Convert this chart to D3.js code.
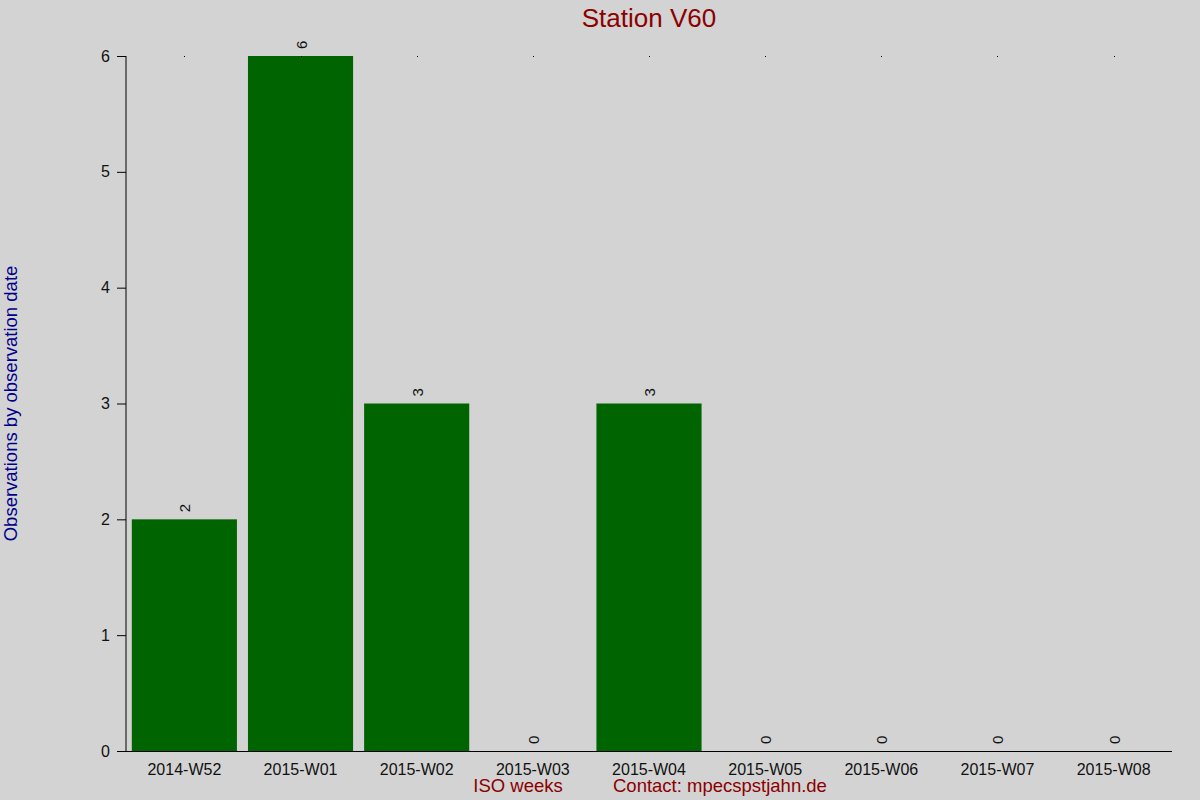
<!DOCTYPE html>
<html>
<head>
<meta charset="utf-8">
<script src="https://cdn.jsdelivr.net/npm/d3@7"></script>
<style>
  body { margin: 0; background: #d3d3d3; }
  svg { display: block; font-family: "Liberation Sans", Arial, sans-serif; }
</style>
</head>
<body>
<div id="chart"></div>
<script>
// Chart data
var weeks = ["2014-W52", "2015-W01", "2015-W02", "2015-W03", "2015-W04",
             "2015-W05", "2015-W06", "2015-W07", "2015-W08"];
var counts = [2, 6, 3, 0, 3, 0, 0, 0, 0];
var yTicks = [0, 1, 2, 3, 4, 5, 6];

var width = 1200, height = 800;
var margin = {top: 56, right: 28, bottom: 49, left: 126};

var svg = d3.select('#chart').append('svg')
	.attr('width', width)
	.attr('height', height);

svg.append('rect')
	.attr('width', width).attr('height', height)
	.attr('fill', '#d3d3d3');

var x = d3.scaleBand()
	.domain(weeks)
	.range([margin.left, width - margin.right])
	.paddingInner(0.095)
	.paddingOuter(0.05);

var y = d3.scaleLinear()
	.domain([0, 6])
	.range([height - margin.bottom, margin.top]);

// Bars
svg.append('g').selectAll('rect')
	.data(counts)
	.enter().append('rect')
		.attr('x', function(d, i) { return x(weeks[i]); })
		.attr('y', function(d) { return y(d); })
		.attr('width', x.bandwidth())
		.attr('height', function(d) { return y(0) - y(d); })
		.attr('fill', '#006400');

// Small top tick dots
svg.append('g').selectAll('rect')
	.data(weeks)
	.enter().append('rect')
		.attr('x', function(d) { return Math.round(x(d) + x.bandwidth() / 2); })
		.attr('y', y(6))
		.attr('width', 1).attr('height', 1)
		.attr('fill', '#000');

// Value labels, rotated
svg.append('g').selectAll('text')
	.data(counts)
	.enter().append('text')
		.attr('transform', function(d, i) {
			var cx = x(weeks[i]) + x.bandwidth() / 2 + 6;
			return 'translate(' + cx + ',' + (y(d) - 7) + ') rotate(-90)';
		})
		.attr('font-size', 15)
		.attr('fill', '#111')
		.text(function(d) { return d; });

// Y axis
var yAxis = d3.axisLeft(y).tickValues(yTicks).tickSize(9).tickPadding(7).tickFormat(d3.format('d'));
var gy = svg.append('g')
	.attr('transform', 'translate(' + margin.left + ',0)')
	.call(yAxis);
gy.select('.domain').attr('d', 'M0,' + y(6) + 'V' + y(0));
gy.selectAll('text').attr('font-size', 16).attr('fill', '#111').attr('font-family', null);

// X axis
var xAxis = d3.axisBottom(x).tickSize(0).tickPadding(13);
var gx = svg.append('g')
	.attr('transform', 'translate(0,' + y(0) + ')')
	.call(xAxis);
gx.select('.domain').attr('d', 'M' + (margin.left - 8) + ',0.5H' + (width - margin.right));
gx.selectAll('text').attr('font-size', 16).attr('fill', '#111').attr('font-family', null);

// Title
svg.append('text')
	.attr('x', (margin.left + width - margin.right) / 2)
	.attr('y', 27)
	.attr('text-anchor', 'middle')
	.attr('font-size', 26)
	.attr('fill', '#8b0000')
	.text('Station V60');

// Y axis label
svg.append('text')
	.attr('transform', 'translate(17,' + ((y(0) + y(6)) / 2) + ') rotate(-90)')
	.attr('text-anchor', 'middle')
	.attr('font-size', 18.5)
	.attr('fill', '#00008b')
	.text('Observations by observation date');

// X axis label + contact
svg.append('text')
	.attr('x', 518).attr('y', 792)
	.attr('text-anchor', 'middle')
	.attr('font-size', 18.5)
	.attr('fill', '#8b0000')
	.text('ISO weeks');

svg.append('text')
	.attr('x', 613).attr('y', 792)
	.attr('font-size', 18.5)
	.attr('fill', '#8b0000')
	.text('Contact: mpecspstjahn.de');
</script>
</body>
</html>
